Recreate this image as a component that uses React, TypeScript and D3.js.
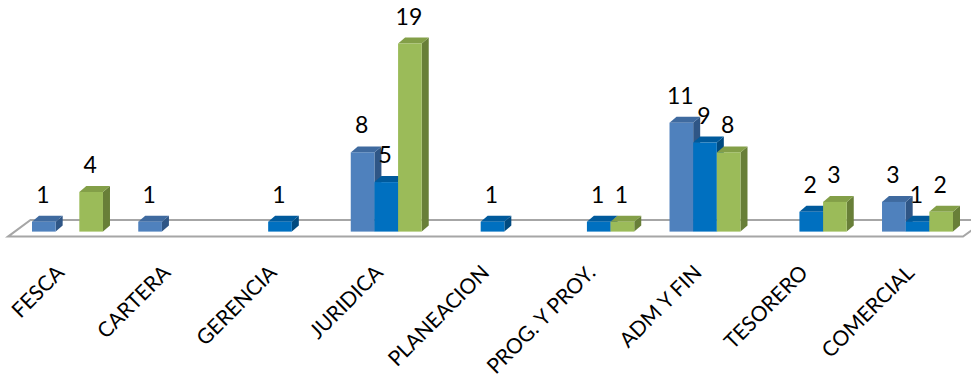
import React from "react";
import * as d3 from "d3";

const categories = ["FESCA", "CARTERA", "GERENCIA", "JURIDICA", "PLANEACION", "PROG. Y PROY.", "ADM Y FIN", "TESORERO", "COMERCIAL"];
const series1 = [1, 1, 0, 8, 0, 0, 11, 0, 3];
const series2 = [0, 0, 1, 5, 1, 1, 9, 2, 1];
const series3 = [4, 0, 0, 19, 0, 1, 8, 3, 2];
const seriesNames = ["S1", "S2", "S3"];

const W = 971;
const H = 385;
const FONT = "Lato, 'Open Sans', sans-serif";

const colors = [
  { front: "#4F81BD", top: "#3F6A9F", side: "#2F5686" },
  { front: "#0070C0", top: "#005A9C", side: "#004A80" },
  { front: "#9BBB59", top: "#839F48", side: "#687F38" },
];

export default function App() {
  const baseY = 231.6;
  const y = d3.scaleLinear().domain([0, 20]).range([baseY, baseY - 20 * 9.9]);
  const x = d3.scaleBand<string>().domain(categories).range([15, 970]).paddingInner(0.332).paddingOuter(0.16);
  const xs = d3.scaleBand<number>().domain([0, 1, 2]).range([0, x.bandwidth()]).padding(0);
  const dX = 7;
  const dY = -6;
  const data = [series1, series2, series3];

  // floor
  const [x0, x1] = x.range();
  const floorFront = baseY + 5;
  const floorBack = baseY - 11.6;
  const floorPts = [
    [x0 - 7, floorFront],
    [x1 - 7, floorFront],
    [x1 + 15.5, floorBack],
    [x0 + 15.5, floorBack],
  ];
  const line = d3.line();

  const bars: React.ReactNode[] = [];
  const labels: React.ReactNode[] = [];
  categories.forEach((c, ci) => {
    data.forEach((s, si) => {
      const v = s[ci];
      if (!v) return;
      const bx = (x(c) as number) + (xs(si) as number);
      const bw = xs.bandwidth();
      const ty = y(v);
      const col = colors[si];
      const side = [[bx + bw, ty], [bx + bw + dX, ty + dY], [bx + bw + dX, baseY + dY], [bx + bw, baseY]] as [number, number][];
      const top = [[bx, ty], [bx + dX, ty + dY], [bx + bw + dX, ty + dY], [bx + bw, ty]] as [number, number][];
      bars.push(
        <g key={`${ci}-${si}`}>
          <path d={line(side) + "Z"} fill={col.side} />
          <path d={line(top) + "Z"} fill={col.top} />
          <rect x={bx} y={ty} width={bw} height={baseY - ty} fill={col.front} />
        </g>
      );
      labels.push(
        <text key={`l${ci}-${si}`} x={bx + bw / 2 - 1} y={ty - 19} textAnchor="middle" fontFamily={FONT} fontSize={23} fill="#000">
          {v}
        </text>
      );
    });
  });

  return (
    <svg width={W} height={H} style={{ position: "absolute", left: 0, top: 0, background: "#fff" }}>
      <path d={line(floorPts as [number, number][]) + "Z"} fill="#fff" stroke="#A6A6A6" strokeWidth={2} />
      {bars}
      {labels}
      {categories.map((c) => {
        const cx = (x(c) as number) + x.bandwidth() / 2 - 2;
        return (
          <text key={c} transform={`translate(${cx},274) rotate(-45)`} textAnchor="end" fontFamily={FONT} fontSize={21} fill="#000">
            {c}
          </text>
        );
      })}
    </svg>
  );
}
